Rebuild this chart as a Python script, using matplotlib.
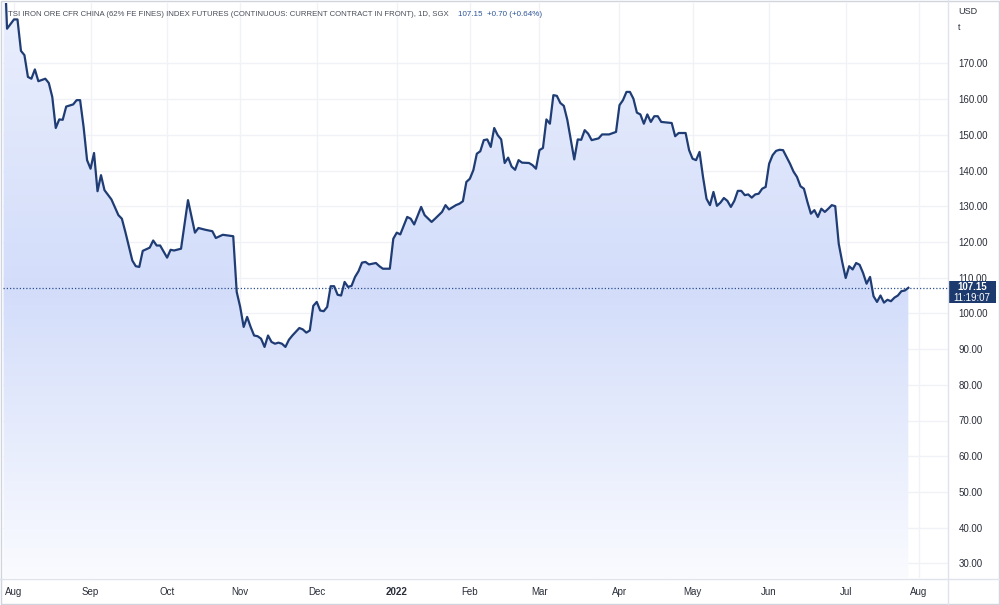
import numpy as np
import pandas as pd
import matplotlib
matplotlib.use('Agg')
import matplotlib.pyplot as plt
from matplotlib.colors import LinearSegmentedColormap
from matplotlib.patches import Rectangle
from matplotlib.lines import Line2D

plt.rcParams['font.family'] = ['Liberation Sans', 'DejaVu Sans']

# daily closes (SGX iron ore 62% Fe, continuous)
dates = [
    '2021-07-28', '2021-07-29', '2021-08-02', '2021-08-03', '2021-08-04', '2021-08-05', '2021-08-06',
    '2021-08-09', '2021-08-10', '2021-08-11', '2021-08-13', '2021-08-16', '2021-08-17', '2021-08-18',
    '2021-08-19', '2021-08-20', '2021-08-23', '2021-08-25', '2021-08-26', '2021-08-27', '2021-08-30',
    '2021-08-31', '2021-09-01', '2021-09-02', '2021-09-03', '2021-09-06', '2021-09-07', '2021-09-09',
    '2021-09-13', '2021-09-14', '2021-09-15', '2021-09-17', '2021-09-20', '2021-09-21', '2021-09-22',
    '2021-09-24', '2021-09-27', '2021-09-28', '2021-09-29', '2021-10-01', '2021-10-04', '2021-10-05',
    '2021-10-07', '2021-10-11', '2021-10-13', '2021-10-14', '2021-10-18', '2021-10-20', '2021-10-21',
    '2021-10-25', '2021-10-28', '2021-10-29', '2021-11-01', '2021-11-02', '2021-11-03', '2021-11-04',
    '2021-11-05', '2021-11-08', '2021-11-09', '2021-11-10', '2021-11-11', '2021-11-12', '2021-11-15',
    '2021-11-16', '2021-11-17', '2021-11-18', '2021-11-19', '2021-11-22', '2021-11-24', '2021-11-25',
    '2021-11-26', '2021-11-29', '2021-11-30', '2021-12-01', '2021-12-02', '2021-12-03', '2021-12-06',
    '2021-12-07', '2021-12-08', '2021-12-09', '2021-12-10', '2021-12-13', '2021-12-14', '2021-12-15',
    '2021-12-16', '2021-12-17', '2021-12-20', '2021-12-21', '2021-12-22', '2021-12-24', '2021-12-27',
    '2021-12-28', '2021-12-30', '2021-12-31', '2022-01-03', '2022-01-04', '2022-01-06', '2022-01-07',
    '2022-01-10', '2022-01-12', '2022-01-13', '2022-01-17', '2022-01-18', '2022-01-20', '2022-01-21',
    '2022-01-24', '2022-01-26', '2022-01-27', '2022-01-28', '2022-01-31', '2022-02-01', '2022-02-02',
    '2022-02-03', '2022-02-04', '2022-02-07', '2022-02-08', '2022-02-09', '2022-02-10', '2022-02-11',
    '2022-02-14', '2022-02-15', '2022-02-16', '2022-02-17', '2022-02-18', '2022-02-21', '2022-02-22',
    '2022-02-24', '2022-02-25', '2022-02-28', '2022-03-01', '2022-03-02', '2022-03-03', '2022-03-04',
    '2022-03-07', '2022-03-08', '2022-03-09', '2022-03-10', '2022-03-11', '2022-03-15', '2022-03-16',
    '2022-03-17', '2022-03-18', '2022-03-21', '2022-03-22', '2022-03-24', '2022-03-25', '2022-03-29',
    '2022-03-31', '2022-04-01', '2022-04-04', '2022-04-05', '2022-04-06', '2022-04-07', '2022-04-08',
    '2022-04-11', '2022-04-12', '2022-04-13', '2022-04-14', '2022-04-15', '2022-04-18', '2022-04-19',
    '2022-04-22', '2022-04-25', '2022-04-26', '2022-04-28', '2022-04-29', '2022-05-02', '2022-05-03',
    '2022-05-04', '2022-05-05', '2022-05-06', '2022-05-09', '2022-05-10', '2022-05-11', '2022-05-12',
    '2022-05-13', '2022-05-16', '2022-05-17', '2022-05-18', '2022-05-19', '2022-05-20', '2022-05-23',
    '2022-05-24', '2022-05-25', '2022-05-26', '2022-05-27', '2022-05-30', '2022-05-31', '2022-06-01',
    '2022-06-02', '2022-06-03', '2022-06-06', '2022-06-07', '2022-06-08', '2022-06-09', '2022-06-10',
    '2022-06-13', '2022-06-14', '2022-06-15', '2022-06-16', '2022-06-17', '2022-06-20', '2022-06-21',
    '2022-06-22', '2022-06-23', '2022-06-24', '2022-06-27', '2022-06-28', '2022-06-29', '2022-06-30',
    '2022-07-01', '2022-07-04', '2022-07-05', '2022-07-06', '2022-07-07', '2022-07-08', '2022-07-11',
    '2022-07-12', '2022-07-13', '2022-07-14', '2022-07-15', '2022-07-18', '2022-07-19', '2022-07-20',
    '2022-07-21', '2022-07-22', '2022-07-25', '2022-07-26', '2022-07-27',
]
prices = [
    205.0, 179.7, 182.3, 182.3, 173.5, 172.3, 166.2, 165.7, 168.3, 165.0, 165.7, 164.5, 160.6, 151.9,
    154.3, 154.2, 157.9, 158.5, 159.7, 159.7, 152.2, 142.9, 140.5, 144.9, 134.2, 138.7, 134.5, 131.9,
    127.5, 126.5, 122.8, 114.8, 113.2, 113.0, 117.5, 118.4, 120.4, 119.0, 119.0, 115.6, 117.8, 117.6,
    118.1, 131.7, 122.6, 123.9, 123.4, 123.0, 121.1, 122.0, 121.6, 106.0, 101.8, 96.2, 99.0, 96.2,
    93.8, 93.6, 92.9, 90.6, 93.8, 92.0, 91.5, 91.8, 91.5, 90.6, 92.6, 93.8, 95.9, 95.5,
    94.6, 95.2, 102.1, 103.2, 100.8, 100.6, 101.8, 107.6, 107.6, 105.2, 105.0, 108.8, 107.4, 107.7,
    110.2, 111.8, 114.2, 114.4, 113.7, 114.1, 113.2, 112.5, 112.5, 120.9, 122.6, 122.1, 127.0, 126.5,
    124.9, 129.8, 127.5, 125.6, 126.5, 128.4, 130.3, 129.1, 130.3, 130.7, 131.4, 136.8, 137.7, 140.1,
    144.7, 145.4, 148.5, 148.7, 146.6, 151.9, 149.9, 148.7, 142.1, 143.6, 141.1, 140.2, 142.9, 142.2,
    142.1, 141.5, 140.5, 145.7, 146.3, 154.3, 153.1, 161.1, 160.9, 158.9, 158.1, 154.2, 143.1, 148.7,
    148.6, 151.3, 150.3, 148.5, 149.0, 150.1, 150.1, 150.8, 158.3, 159.7, 162.0, 162.0, 160.1, 156.2,
    155.7, 153.1, 155.7, 153.6, 155.2, 155.2, 153.6, 153.3, 149.6, 150.5, 150.5, 145.7, 143.3, 142.9,
    145.2, 138.2, 132.1, 130.3, 134.0, 130.1, 131.0, 132.3, 131.5, 129.8, 131.5, 134.3, 134.3, 133.1,
    133.3, 132.4, 133.3, 133.5, 134.9, 135.4, 141.9, 144.3, 145.5, 145.8, 145.7, 143.8, 141.9, 139.7,
    138.2, 135.6, 134.9, 131.2, 127.9, 128.9, 127.0, 129.3, 128.4, 129.3, 130.3, 130.0, 119.5, 114.4,
    109.9, 113.2, 112.3, 114.1, 113.6, 111.3, 108.3, 110.2, 104.8, 103.2, 105.0, 103.0, 103.8, 103.4,
    104.4, 105.0, 106.2, 106.4, 107.15,
]
assert len(dates) == len(prices), (len(dates), len(prices))

tick_months = ['2021-08', '2021-09', '2021-10', '2021-11', '2021-12', '2022-01', '2022-02',
               '2022-03', '2022-04', '2022-05', '2022-06', '2022-07', '2022-08']
month_labels = ['Aug', 'Sep', 'Oct', 'Nov', 'Dec', '2022', 'Feb', 'Mar', 'Apr', 'May', 'Jun', 'Jul', 'Aug']
y_ticks = list(range(30, 180, 10))
last_price = 107.15
last_time = '11:19:07'
title = 'TSI IRON ORE CFR CHINA (62% FE FINES) INDEX FUTURES (CONTINUOUS: CURRENT CONTRACT IN FRONT), 1D, SGX'
quote = '107.15  +0.70 (+0.64%)'

# trading-session axis (weekends skipped, like TradingView)
sessions = pd.bdate_range('2021-07-28', '2022-08-31')
x = sessions.get_indexer(pd.to_datetime(dates))
first_of_month = pd.Series(np.arange(len(sessions)), index=sessions).groupby(sessions.to_period('M')).first()
first_of_month.index = first_of_month.index.astype(str)
month_pos = first_of_month.loc[tick_months].values

W, H = 1000, 605
fig = plt.figure(figsize=(10, 6.05), dpi=100)
ax = fig.add_axes([3 / W, 1 - 578 / H, 945 / W, 575 / H])
ax.set_xlim(-0.16, 271.4)
ax.set_ylim(25.9, 186.9)

# grid
for v in y_ticks:
    ax.axhline(v, color='#f0f2f8', lw=1, zorder=0)
for p in month_pos:
    ax.axvline(p, color='#f0f2f8', lw=1, zorder=0)

# gradient area under the line
cmap = LinearSegmentedColormap.from_list('area', [
    (0.0, (250 / 255, 251 / 255, 1.0)),
    (0.5, (211 / 255, 221 / 255, 250 / 255)),
    (1.0, (234 / 255, 239 / 255, 253 / 255)),
])
grad = np.linspace(0, 1, 256).reshape(-1, 1)
im = ax.imshow(grad, extent=[-0.16, 271.4, 25.9, 186.9], origin='lower', aspect='auto',
               cmap=cmap, zorder=1, interpolation='bilinear')
area = ax.fill_between(x, prices, 25.9, facecolor='none', edgecolor='none')
im.set_clip_path(area.get_paths()[0], transform=ax.transData)

ax.plot(x, prices, color='#1f3d74', lw=1.6, zorder=3, solid_joinstyle='round')
ax.axhline(last_price, color='#2c5190', lw=0.9, ls=(0, (1, 1.6)), zorder=2)

for s in ax.spines.values():
    s.set_visible(False)

ax.yaxis.tick_right()
ax.set_yticks(y_ticks)
ax.set_yticklabels(['%.2f' % v for v in y_ticks])
ax.tick_params(axis='y', length=0, pad=7.5, labelsize=7, labelcolor='#2a2e39')
ax.set_xticks(month_pos)
ax.set_xticklabels(month_labels)
ax.tick_params(axis='x', length=0, pad=6.5, labelsize=7, labelcolor='#2a2e39')
for lab in ax.get_xticklabels():
    if lab.get_text() == '2022':
        lab.set_fontweight('bold')

# separators and frame
fig.add_artist(Line2D([948 / W, 948 / W], [0, 1], color='#e0e3eb', lw=1))
fig.add_artist(Line2D([0, 1], [1 - 578.5 / H, 1 - 578.5 / H], color='#e0e3eb', lw=1))
fig.add_artist(Rectangle((0.0005, 0.001), 0.998, 0.998, fill=False, edgecolor='#d1d4dc', lw=1))

fig.text(8 / W, 1 - 14 / H, title, fontsize=5.6, color='#4a4e5a', va='center', ha='left')
fig.text(458 / W, 1 - 14 / H, quote, fontsize=5.8, color='#2e5597', va='center', ha='left')
fig.text(958 / W, 1 - 12 / H, 'USD', fontsize=6.5, color='#2a2e39', va='center', ha='left')
fig.text(958 / W, 1 - 28 / H, 't', fontsize=6.5, color='#2a2e39', va='center', ha='left')

# last price label on the scale
fig.canvas.draw()
ypix = ax.transData.transform((0, last_price))[1]
yf = ypix / H
fig.add_artist(Rectangle((949 / W, yf - 15.5 / H), 47 / W, 22.5 / H, facecolor='#1d3a6e',
                         edgecolor='none', transform=fig.transFigure))
fig.text(972 / W, yf + 1 / H, '%.2f' % last_price, fontsize=7, color='white', fontweight='bold',
         ha='center', va='center')
fig.text(972 / W, yf - 10 / H, last_time, fontsize=7, color='white', ha='center', va='center')

fig.savefig('out.png', dpi=100)
